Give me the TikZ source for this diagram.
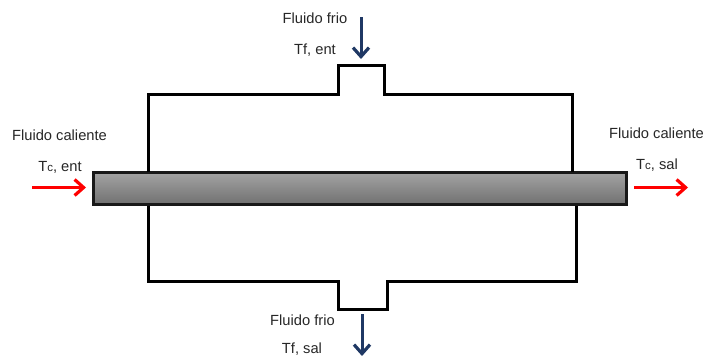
\documentclass[tikz,border=0pt]{standalone}
\usepackage{fontspec}
\setmainfont{Liberation Sans}
\usetikzlibrary{arrows.meta}
\definecolor{coldblue}{HTML}{1F3864}
\definecolor{labelgray}{HTML}{262626}
\tikzset{
  wall/.style={line width=3pt,black,line join=miter},
  tube/.style={draw=black!90,line width=3.4pt,top color=black!36,bottom color=black!56,minimum width=533pt,minimum height=32pt,inner sep=0pt},
  hot/.style={line width=3pt,red,-{Straight Barb[length=9pt,width=16pt,line width=3.2pt]}},
  cold/.style={line width=3pt,coldblue,-{Straight Barb[length=9pt,width=16pt,line width=3.2pt]}},
  lab/.style={font=\fontsize{14.7}{16}\selectfont,text=labelgray,inner sep=0pt,anchor=center}
}
\newcommand{\sm}[1]{{\fontsize{11.5}{12}\selectfont #1}}
\begin{document}
\begin{tikzpicture}[x=1pt,y=-1pt]
\useasboundingbox (0,0) rectangle (705,356);
\clip (0,0) rectangle (705,356);
\node[tube] (pipe) at (360,188.5) {};
\coordinate (ul) at (148,172);
\coordinate (ur) at (572,172);
\coordinate (ll) at (148,206);
\coordinate (lr) at (576,206);
\draw[wall] (ul) -- (148,94) -- (338,94) -- (338,65) -- (384,65) -- (384,94) -- (572,94) -- (ur);
\draw[wall] (ll) -- (148,281) -- (338,281) -- (338,309) -- (387,309) -- (387,281) -- (576,281) -- (lr);
\coordinate (hotInA) at (32,187.5); \coordinate (hotInB) at (86,187.5);
\coordinate (hotOutA) at (634,187.5); \coordinate (hotOutB) at (688,187.5);
\coordinate (coldInA) at (361,17); \coordinate (coldInB) at (361,59);
\coordinate (coldOutA) at (362,314); \coordinate (coldOutB) at (362,356);
\draw[hot] (hotInA) -- (hotInB);
\draw[hot] (hotOutA) -- (hotOutB);
\draw[cold] (coldInA) -- (coldInB);
\draw[cold] (coldOutA) -- (coldOutB);
\node[lab] (t1) at (59.5,135.5) {Fluido caliente};
\node[lab] (t2) at (60,167.5) {T\sm{c}, ent};
\node[lab] (t3) at (315,18) {Fluido frio};
\node[lab] (t4) at (315,50) {Tf, ent};
\node[lab] (t5) at (302.5,320.5) {Fluido frio};
\node[lab] (t6) at (302,349) {Tf, sal};
\node[lab] (t7) at (656.5,133.5) {Fluido caliente};
\node[lab] (t8) at (657,165) {T\sm{c}, sal};
\end{tikzpicture}
\end{document}
